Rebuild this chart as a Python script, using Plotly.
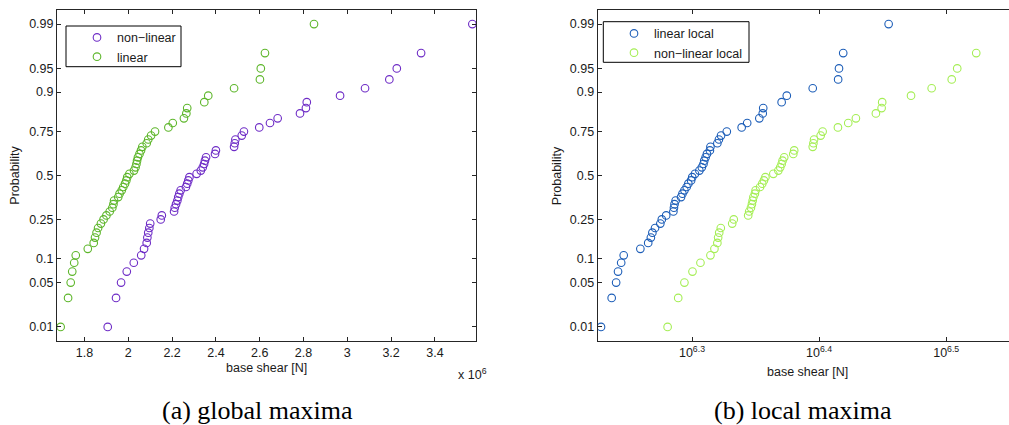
import plotly.graph_objects as go
from statistics import NormalDist

# ---------------- data (base shear, in units of 1e6 N, sorted ascending) ----------------
nonlinear_global = [1.906, 1.944, 1.967, 1.993, 2.025, 2.059, 2.072, 2.084, 2.087, 2.091,
                    2.096, 2.100, 2.148, 2.153, 2.209, 2.212, 2.218, 2.224, 2.228, 2.233,
                    2.239, 2.263, 2.269, 2.274, 2.279, 2.312, 2.331, 2.340, 2.346, 2.350,
                    2.355, 2.396, 2.400, 2.483, 2.486, 2.489, 2.518, 2.528, 2.598, 2.647,
                    2.682, 2.784, 2.811, 2.815, 2.967, 3.081, 3.192, 3.226, 3.337, 3.571]
linear_global = [1.691, 1.725, 1.737, 1.744, 1.753, 1.760, 1.815, 1.842, 1.848, 1.855,
                 1.862, 1.875, 1.887, 1.900, 1.915, 1.927, 1.932, 1.935, 1.954, 1.960,
                 1.970, 1.977, 1.985, 1.991, 1.995, 2.005, 2.026, 2.033, 2.037, 2.040,
                 2.044, 2.051, 2.058, 2.064, 2.084, 2.091, 2.104, 2.122, 2.183, 2.203,
                 2.254, 2.265, 2.269, 2.347, 2.365, 2.483, 2.601, 2.605, 2.624, 2.848]
linear_local = [1.692, 1.725, 1.739, 1.745, 1.755, 1.763, 1.817, 1.843, 1.852, 1.857,
                1.866, 1.884, 1.889, 1.904, 1.929, 1.931, 1.933, 1.937, 1.956, 1.961,
                1.968, 1.976, 1.982, 1.992, 1.996, 2.006, 2.022, 2.031, 2.037, 2.040,
                2.045, 2.050, 2.061, 2.063, 2.089, 2.095, 2.103, 2.125, 2.183, 2.205,
                2.254, 2.268, 2.270, 2.347, 2.369, 2.483, 2.600, 2.604, 2.624, 2.849]
nonlinear_local = [1.909, 1.946, 1.968, 1.997, 2.026, 2.063, 2.078, 2.089, 2.092, 2.096,
                   2.102, 2.146, 2.152, 2.209, 2.213, 2.220, 2.224, 2.227, 2.230, 2.236,
                   2.239, 2.257, 2.266, 2.273, 2.279, 2.312, 2.333, 2.341, 2.347, 2.351,
                   2.358, 2.397, 2.401, 2.483, 2.486, 2.489, 2.519, 2.528, 2.599, 2.648,
                   2.685, 2.784, 2.813, 2.816, 2.967, 3.080, 3.194, 3.226, 3.339, 3.571]

prob_ticks = [0.01, 0.05, 0.1, 0.25, 0.5, 0.75, 0.9, 0.95, 0.99]
prob_labels = ["0.01", "0.05", "0.1", "0.25", "0.5", "0.75", "0.9", "0.95", "0.99"]
global_ticks = [1.8, 2.0, 2.2, 2.4, 2.6, 2.8, 3.0, 3.2, 3.4]
global_labels = ["1.8", "2", "2.2", "2.4", "2.6", "2.8", "3", "3.2", "3.4"]
local_tick_exps = [6.3, 6.4, 6.5]
local_labels = ["10<sup>6.3</sup>", "10<sup>6.4</sup>", "10<sup>6.5</sup>"]

SCALE = 1e6
C_PURPLE = "#6E2CC6"
C_GREEN = "#5DB62A"
C_BLUE = "#1D5EB8"
C_LGREEN = "#A5EE55"

W, H = 1009, 425
FONT = "Liberation Sans, Arial, sans-serif"
TXT = "#1a1a1a"
AX = "#262626"

nd = NormalDist()


def positions(n):
    return [nd.inv_cdf((i + 0.5) / n) for i in range(n)]


def px(v):
    return v / W


def py(v):
    return 1 - v / H


fig = go.Figure()


def add(xs, name, color, xa, ya, leg):
    fig.add_trace(go.Scatter(
        x=xs, y=positions(len(xs)), mode="markers", name=name,
        xaxis=xa, yaxis=ya, legend=leg,
        marker=dict(symbol="circle-open", size=7.6, color=color, line=dict(width=1.1, color=color)),
        cliponaxis=True,
    ))


add(nonlinear_global, "non\u2212linear", C_PURPLE, "x", "y", "legend")
add(linear_global, "linear", C_GREEN, "x", "y", "legend")
add([v * SCALE for v in linear_local], "linear local", C_BLUE, "x2", "y2", "legend2")
add([v * SCALE for v in nonlinear_local], "non\u2212linear local", C_LGREEN, "x2", "y2", "legend2")

zt = [nd.inv_cdf(p) for p in prob_ticks]
ZR = 2.543
common_ax = dict(showgrid=False, zeroline=False, showline=True, linecolor=AX, linewidth=1,
                 ticks="inside", ticklen=4, tickcolor=AX, tickwidth=1,
                 tickfont=dict(family=FONT, size=12.5, color=TXT))

fig.update_layout(
    width=W, height=H, margin=dict(l=0, r=0, t=0, b=0),
    paper_bgcolor="white", plot_bgcolor="white",
    xaxis=dict(domain=[px(57), px(476)], range=[1.6744, 3.5877], anchor="y",
               tickvals=global_ticks, ticktext=global_labels, mirror="ticks", **common_ax),
    yaxis=dict(domain=[py(341), py(10)], range=[-ZR, ZR], anchor="x",
               tickvals=zt, ticktext=prob_labels, mirror="ticks", **common_ax),
    xaxis2=dict(domain=[px(597.7), 1.0], type="log", range=[6.2258, 6.5494], anchor="y2",
                tickvals=[10 ** e for e in local_tick_exps], ticktext=local_labels,
                mirror="ticks", **common_ax),
    yaxis2=dict(domain=[py(341), py(10)], range=[-ZR, ZR], anchor="x2",
                tickvals=zt, ticktext=prob_labels, mirror=False, **common_ax),
    legend=dict(x=px(77), y=py(22.8), xanchor="left", yanchor="top", bgcolor="rgba(0,0,0,0)",
                borderwidth=0, font=dict(family=FONT, size=12.5, color=TXT), itemwidth=30),
    legend2=dict(x=px(614), y=py(18.8), xanchor="left", yanchor="top", bgcolor="rgba(0,0,0,0)",
                 borderwidth=0, font=dict(family=FONT, size=12.5, color=TXT), itemwidth=30),
    showlegend=True,
)

# legend frames
fig.add_shape(type="rect", xref="paper", yref="paper", x0=px(66), x1=px(181), y0=py(66.7), y1=py(26),
              line=dict(color="black", width=1), fillcolor="rgba(0,0,0,0)", layer="above")
fig.add_shape(type="rect", xref="paper", yref="paper", x0=px(603.3), x1=px(749), y0=py(62.3), y1=py(21.7),
              line=dict(color="black", width=1), fillcolor="rgba(0,0,0,0)", layer="above")

ann = dict(xref="paper", yref="paper", showarrow=False, font=dict(family=FONT, size=12.5, color=TXT))
fig.add_annotation(text="base shear [N]", x=px(266.5), y=py(367.7), xanchor="center", yanchor="middle", **ann)
fig.add_annotation(text="base shear [N]", x=px(807), y=py(372.3), xanchor="center", yanchor="middle", **ann)
fig.add_annotation(text="Probability", x=px(15), y=py(175.7), textangle=-90, xanchor="center", yanchor="middle", **ann)
fig.add_annotation(text="Probability", x=px(556.7), y=py(175.5), textangle=-90, xanchor="center", yanchor="middle", **ann)
fig.add_annotation(text="x 10<sup>6</sup>", x=px(456), y=py(374), xanchor="left", yanchor="middle", **ann)

cap = dict(xref="paper", yref="paper", showarrow=False,
           font=dict(family="Liberation Serif, Times New Roman, serif", size=26, color="black"))
fig.add_annotation(text="(a) global maxima", x=px(257.5), y=py(410), xanchor="center", yanchor="middle", **cap)
fig.add_annotation(text="(b) local maxima", x=px(803.3), y=py(410), xanchor="center", yanchor="middle", **cap)

fig.write_html("out.html")
